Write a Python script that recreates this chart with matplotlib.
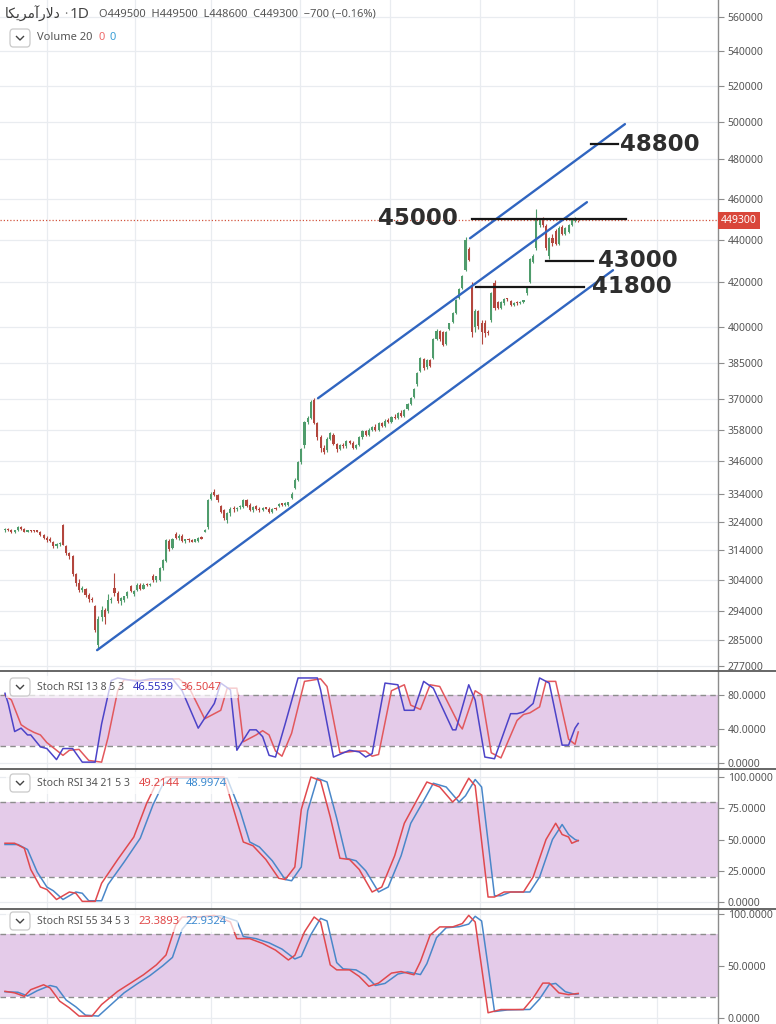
import numpy as np
import matplotlib
matplotlib.use('Agg')
import matplotlib.pyplot as plt
from matplotlib.ticker import NullLocator
from matplotlib.lines import Line2D
from matplotlib.patches import FancyBboxPatch
import matplotlib.transforms as mtransforms

plt.rcParams['font.family'] = ['Noto Sans', 'DejaVu Sans']

# ---------------- data (prices in thousand rials) ----------------
opens = [321.0, 321.4, 321.0, 320.4, 321.0, 322.2, 321.3, 320.5, 320.8, 320.7,
         320.6, 320.4, 319.3, 318.3, 318.0, 317.0, 315.5, 316.2, 322.7, 315.5,
         313.0, 312.0, 306.0, 303.0, 300.8, 301.0, 299.2, 298.0, 295.5, 283.5,
         292.0, 294.5, 294.0, 297.5, 301.5, 299.8, 297.3, 297.5, 298.8, 302.0,
         299.5, 300.8, 302.5, 301.2, 302.6, 302.3, 305.5, 304.0, 304.0, 308.0,
         310.5, 317.3, 314.8, 319.8, 318.3, 319.0, 317.3, 317.7, 317.5, 317.0,
         317.3, 318.3, 320.5, 322.0, 332.0, 334.5, 333.5, 329.5, 328.0, 324.5,
         327.0, 328.5, 328.3, 329.0, 329.0, 331.5, 330.0, 328.2, 329.5, 328.5,
         328.0, 328.8, 328.6, 327.4, 328.5, 329.5, 330.2, 330.0, 329.8, 332.5,
         336.0, 339.0, 345.5, 352.0, 361.0, 362.5, 369.5, 360.5, 355.0, 351.0,
         350.0, 354.5, 356.0, 352.5, 350.5, 352.0, 351.5, 353.5, 353.0, 351.0,
         352.0, 355.0, 357.5, 356.0, 358.0, 359.0, 358.0, 360.5, 359.5, 361.5,
         361.0, 363.0, 362.5, 364.5, 363.5, 366.0, 368.0, 371.0, 376.0, 381.5,
         386.5, 383.0, 386.0, 387.0, 395.0, 398.5, 398.0, 393.0, 399.3, 402.3,
         406.3, 413.0, 417.5, 425.6, 435.4, 419.0, 400.0, 407.0, 402.0, 402.0,
         398.0, 403.0, 419.5, 411.0, 408.5, 410.5, 412.5, 411.5, 410.0, 410.8,
         410.5, 411.2, 415.0, 420.0, 429.5, 436.0, 447.0, 450.0, 446.5, 432.0,
         440.5, 444.0, 438.0, 446.0, 442.5, 443.5, 447.0, 449.0, 449.5]
highs = [321.8, 321.9, 321.5, 321.2, 322.5, 322.6, 321.6, 321.0, 321.2, 321.0,
         320.9, 320.7, 319.6, 318.8, 318.5, 317.3, 316.5, 317.0, 323.2, 316.0,
         313.5, 312.5, 306.5, 304.5, 302.0, 301.5, 299.8, 298.5, 296.0, 292.5,
         295.5, 295.0, 299.5, 298.5, 306.5, 300.5, 298.5, 299.0, 300.5, 302.6,
         300.8, 303.2, 303.0, 303.0, 303.0, 303.0, 306.0, 305.5, 308.3, 311.0,
         318.0, 317.8, 318.2, 320.3, 319.5, 319.5, 318.0, 318.3, 318.0, 318.0,
         318.5, 318.8, 321.5, 332.2, 334.5, 335.5, 334.0, 330.0, 328.5, 327.5,
         329.0, 329.5, 329.0, 330.0, 332.0, 332.0, 330.5, 329.5, 330.0, 329.0,
         329.0, 329.2, 329.0, 328.8, 329.0, 330.5, 330.7, 330.8, 331.0, 334.5,
         339.5, 346.0, 351.0, 361.5, 363.5, 369.5, 370.6, 361.0, 356.0, 352.0,
         355.0, 357.0, 356.5, 353.0, 352.5, 353.0, 354.0, 354.0, 353.5, 352.5,
         355.5, 358.0, 358.0, 358.5, 359.5, 360.0, 361.0, 361.0, 362.0, 362.5,
         363.5, 364.0, 365.0, 365.5, 366.0, 368.5, 371.0, 374.5, 381.0, 387.5,
         387.0, 386.5, 386.5, 395.5, 399.5, 399.0, 398.5, 398.5, 402.0, 406.8,
         412.5, 417.5, 423.5, 441.0, 436.5, 420.0, 408.0, 407.5, 403.0, 403.0,
         399.0, 415.5, 421.0, 411.5, 411.5, 413.0, 413.0, 412.0, 411.2, 411.5,
         411.5, 412.0, 418.0, 431.5, 433.0, 455.0, 450.5, 451.0, 447.5, 441.0,
         442.5, 445.0, 446.5, 447.0, 446.0, 447.5, 450.0, 451.0, 449.5]
lows = [320.5, 320.8, 320.0, 320.0, 320.8, 321.0, 320.2, 320.3, 320.5, 320.4,
        320.2, 319.0, 318.0, 317.0, 317.0, 315.0, 314.8, 315.5, 315.8, 312.5,
        311.0, 305.5, 302.0, 300.0, 300.0, 298.5, 297.0, 297.0, 287.5, 282.3,
        291.0, 290.0, 293.5, 296.5, 299.0, 296.5, 296.0, 297.0, 298.3, 300.0,
        299.0, 300.5, 300.8, 301.0, 302.0, 302.0, 303.5, 303.5, 303.8, 307.5,
        310.0, 313.8, 314.5, 317.8, 317.5, 316.8, 316.5, 317.0, 316.8, 316.8,
        317.0, 317.8, 320.3, 321.5, 331.5, 333.0, 331.0, 327.0, 324.5, 323.5,
        326.0, 327.5, 327.8, 328.6, 328.8, 329.0, 327.8, 327.5, 328.0, 327.5,
        327.8, 328.3, 327.0, 327.2, 328.0, 329.0, 329.6, 329.5, 329.5, 332.0,
        335.5, 338.5, 345.0, 351.0, 360.0, 362.0, 360.0, 354.0, 349.5, 348.5,
        349.5, 354.0, 352.0, 349.5, 350.0, 351.0, 351.0, 352.5, 350.5, 350.5,
        351.5, 354.5, 355.5, 355.5, 357.5, 357.5, 357.5, 359.0, 359.0, 360.5,
        360.5, 362.0, 362.0, 363.0, 363.0, 365.5, 367.5, 370.5, 375.5, 381.0,
        382.0, 382.5, 383.0, 386.5, 394.5, 394.0, 392.0, 392.5, 399.0, 402.0,
        406.0, 412.5, 417.0, 425.0, 430.0, 396.0, 398.0, 399.5, 393.0, 396.0,
        396.5, 402.5, 407.5, 408.0, 408.0, 410.0, 411.8, 409.5, 409.5, 410.0,
        410.2, 410.8, 414.5, 419.5, 429.0, 435.0, 446.0, 446.0, 435.0, 431.0,
        437.0, 437.5, 437.5, 442.0, 442.0, 443.0, 446.5, 448.5, 448.6]
closes = [321.4, 321.0, 320.4, 321.0, 322.2, 321.3, 320.5, 320.8, 320.7, 320.6,
          320.4, 319.3, 318.3, 317.6, 317.3, 315.5, 316.2, 316.6, 316.0, 313.0,
          312.0, 306.0, 303.0, 300.8, 301.5, 299.2, 297.8, 297.5, 288.0, 291.5,
          294.5, 292.0, 297.5, 298.0, 299.8, 297.3, 298.2, 298.8, 300.3, 300.5,
          300.5, 302.6, 301.2, 302.6, 302.3, 302.8, 304.0, 305.3, 308.0, 310.7,
          317.5, 314.5, 317.8, 318.3, 319.0, 317.3, 317.7, 317.5, 317.0, 317.8,
          318.3, 318.0, 321.2, 331.8, 334.0, 333.5, 331.5, 327.5, 325.2, 327.2,
          328.5, 328.3, 328.7, 329.5, 331.5, 329.5, 328.2, 329.2, 328.5, 328.0,
          328.8, 328.6, 327.4, 328.5, 328.3, 330.2, 330.0, 330.5, 330.8, 334.0,
          339.0, 345.5, 350.5, 361.0, 362.5, 369.0, 360.5, 355.0, 351.0, 349.5,
          354.5, 356.5, 352.5, 350.5, 352.0, 351.5, 353.5, 353.0, 351.0, 352.0,
          355.0, 357.5, 356.0, 358.0, 359.0, 358.0, 360.5, 359.5, 361.5, 361.0,
          363.0, 362.5, 364.5, 363.5, 365.5, 368.0, 370.5, 374.0, 380.5, 387.0,
          382.8, 386.0, 383.5, 395.0, 398.5, 394.8, 392.5, 398.0, 401.8, 406.4,
          412.0, 417.0, 423.0, 440.0, 430.2, 398.0, 407.0, 400.5, 398.0, 397.5,
          397.5, 415.0, 408.5, 408.5, 411.0, 412.5, 412.3, 410.0, 410.8, 410.5,
          411.2, 411.5, 417.5, 431.0, 432.0, 450.0, 450.0, 447.0, 436.0, 440.5,
          438.5, 438.0, 445.5, 442.5, 445.5, 447.0, 449.5, 449.5, 449.3]

last_price = 449300
price_ticks = [560000, 540000, 520000, 500000, 480000, 460000, 440000, 420000,
               400000, 385000, 370000, 358000, 346000, 334000, 324000, 314000,
               304000, 294000, 285000, 277000]
month_starts = [13.0, 40.4, 63.9, 91.6, 119.6, 147.5, 176.7, 202.5]

# channel lines: (bar index pair, price pair)
chan_lower = ([28.6, 188.8], [281800, 425600])
chan_mid = ([97.2, 180.7], [370400, 458200])
chan_upper = ([144.4, 192.5], [440600, 498700])

# horizontal levels (labels in toman, price in rial = label*10)
levels = [48800, 45000, 43000, 41800]
level_spans = [(182.0, 190.4), (145.0, 192.9), (168.0, 182.6), (146.3, 179.8)]
level_label_x = [191.0, 140.7, 184.2, 182.3]
level_label_ha = ['left', 'right', 'left', 'left']

# Stoch RSI 13 8 5 3
s1_k_idx = [0, 1, 3, 5, 7, 8, 11, 13, 16, 18, 21, 24, 28, 30, 33, 35, 41, 45, 52, 55,
            60, 65, 67, 70, 72, 76, 78, 80, 82, 84, 87, 91, 97, 98, 102, 107, 110, 112, 114, 118,
            122, 124, 127, 130, 133, 139, 140, 144, 146, 149, 152, 157, 159, 161, 164, 166, 169, 173, 175, 177,
            178]
s1_k = [82, 70, 37, 41, 33, 33, 19, 17, 4, 17, 17, 1, 1, 46, 97, 100, 96, 99, 99, 85,
        41, 70, 94, 86, 15, 39, 39, 31, 9, 7, 46, 100, 100, 86, 7, 15, 13, 7, 11, 94,
        92, 62, 62, 96, 88, 39, 39, 92, 74, 7, 5, 58, 58, 60, 70, 100, 94, 21, 21, 41,
        46.5539]
s1_d_idx = [0, 2, 5, 7, 9, 11, 13, 15, 18, 20, 23, 26, 30, 32, 35, 37, 43, 47, 54, 57,
            62, 67, 69, 72, 74, 78, 80, 82, 84, 86, 89, 93, 98, 100, 104, 109, 112, 114, 116, 120,
            124, 126, 129, 132, 135, 141, 142, 146, 148, 151, 154, 159, 161, 163, 166, 168, 171, 175, 177, 178]
s1_d = [80, 74, 45, 40, 36, 33, 24, 18, 9, 15, 16, 3, 1, 30, 85, 98, 97, 98, 99, 90,
        52, 62, 88, 88, 25, 33, 38, 33, 14, 8, 35, 96, 99, 90, 12, 14, 14, 8, 10, 85,
        92, 68, 63, 92, 90, 45, 40, 85, 80, 12, 6, 50, 57, 59, 66, 96, 96, 28, 22, 36.5047]

# Stoch RSI 34 21 5 3
s2_k_idx = [0, 3, 6, 8, 11, 13, 16, 20, 22, 24, 28, 30, 35, 40, 44, 47, 50, 68, 71, 74,
            77, 81, 85, 87, 90, 92, 95, 98, 101, 104, 107, 110, 114, 117, 121, 124, 128, 131, 135, 139,
            141, 144, 146, 150, 152, 155, 161, 164, 168, 171, 173, 175, 176, 178]
s2_k = [47, 47, 43, 26, 12, 10, 2, 8, 7, 0.5, 0.5, 15, 34, 52, 79, 95, 100, 100, 74, 48,
        45, 34, 19, 18, 28, 74, 100, 97, 68, 35, 34, 26, 8, 12, 37, 63, 82, 96, 92, 80,
        85, 99, 93, 4, 4, 8, 8, 20, 50, 63, 54, 52, 47, 49.2144]
s2_d_idx = [0, 4, 7, 10, 13, 15, 18, 22, 24, 26, 30, 32, 37, 42, 46, 49, 52, 69, 73, 76,
            79, 83, 87, 89, 92, 94, 97, 100, 103, 106, 109, 112, 116, 119, 123, 126, 130, 133, 137, 141,
            143, 146, 148, 152, 154, 157, 163, 166, 170, 173, 175, 177, 178]
s2_d = [46, 46, 42, 24, 12, 9, 2, 8, 7, 1, 1, 14, 32, 51, 78, 94, 99, 99, 73, 48,
        44, 33, 18, 17, 28, 73, 99, 96, 67, 35, 33, 25, 8, 12, 37, 63, 81, 95, 92, 80,
        85, 98, 92, 5, 5, 8, 8, 20, 50, 62, 54, 50, 48.9974]

# Stoch RSI 55 34 5 3
s3_k_idx = [0, 3, 6, 8, 12, 14, 17, 20, 23, 27, 30, 35, 39, 43, 47, 50, 53, 55, 60, 65,
            70, 72, 76, 80, 84, 88, 90, 93, 96, 98, 101, 103, 107, 110, 113, 116, 120, 123, 127, 129,
            132, 135, 139, 142, 144, 146, 150, 154, 161, 164, 167, 169, 172, 175, 178]
s3_k = [25.4, 23.9, 20.6, 27, 31.7, 28.6, 15.9, 9.5, 1.6, 1.6, 12.7, 25.4, 33.3, 41.3, 50.8, 60.3, 88.9, 96.8, 96.8, 98.4,
        92, 76, 76, 71.4, 65, 55.5, 60, 82.5, 96.8, 92, 50.8, 46, 46, 39.7, 30.2, 33.3, 42.9, 44.4, 41.3, 54,
        79.4, 87.3, 87.3, 90.5, 98.4, 92, 4.8, 7.9, 7.9, 19, 33.3, 33.3, 23.9, 22.2, 23.3893]
s3_d_idx = [0, 4, 7, 10, 14, 16, 19, 22, 25, 29, 32, 37, 41, 45, 49, 52, 55, 58, 62, 67,
            72, 74, 78, 82, 86, 90, 92, 95, 98, 100, 103, 105, 109, 112, 115, 118, 122, 125, 129, 131,
            134, 137, 141, 144, 146, 148, 152, 156, 163, 166, 169, 171, 174, 177, 178]
s3_d = [25, 24.5, 21, 26, 31, 29.5, 17, 10.5, 2.5, 1.6, 10, 24, 32.5, 40.5, 50, 58, 85, 96, 97, 98,
        93, 78, 76, 72, 66, 56.5, 59, 80, 95.5, 93, 53, 47, 46, 40.5, 31, 33, 42, 44, 41.5, 52,
        77, 86.5, 87.5, 90, 97.5, 93, 6, 7.5, 8, 18, 32, 33, 25, 22.5, 22.9324]

# ---------------- styling ----------------
W, H = 776, 1024
UP, DOWN = '#4f9c6c', '#b3463d'
GRID = '#e9ecf0'
BAND = '#e4cbe9'
AXIS_TXT = '#555555'
CHAN = '#3065c0'
XMIN, XMAX = -1.55, 221.4
AX_RIGHT = 718

fig = plt.figure(figsize=(W / 100, H / 100), dpi=100)
fig.patch.set_facecolor('white')


def fx(px):
    return px / W


def fy(py):
    return 1 - py / H


def add_panel(top, bottom):
    a = fig.add_axes([0, fy(bottom), fx(AX_RIGHT), (bottom - top) / H])
    a.set_xlim(XMIN, XMAX)
    for s in ['top', 'left', 'bottom']:
        a.spines[s].set_visible(False)
    a.spines['right'].set_color('#8c8c8c')
    a.spines['right'].set_linewidth(1.0)
    a.yaxis.tick_right()
    a.set_xticks([])
    a.tick_params(axis='y', which='both', right=True, left=False, labelright=True,
                  labelleft=False, length=4, width=0.8, color='#8c8c8c',
                  labelcolor=AXIS_TXT, labelsize=7.5, pad=3)
    for m in month_starts:
        a.axvline(m, color=GRID, lw=0.9, zorder=0)
    return a


ax = add_panel(0, 671)
p1 = add_panel(671, 769)
p2 = add_panel(769, 909)
p3 = add_panel(909, 1024)

# ---------------- main price panel ----------------
o = np.array(opens) * 1000
h = np.array(highs) * 1000
l = np.array(lows) * 1000
c = np.array(closes) * 1000
idx = np.arange(len(o))
ax.set_yscale('log')
ax.set_ylim(275500, 570600)
ax.set_yticks(price_ticks)
ax.set_yticklabels([str(v) for v in price_ticks])
ax.yaxis.set_minor_locator(NullLocator())
for v in price_ticks:
    ax.axhline(v, color=GRID, lw=0.9, zorder=0)

cols = np.where(c >= o, UP, DOWN)
ax.vlines(idx, l, h, colors=cols, lw=0.8, zorder=3)
body = np.maximum(np.abs(c - o), c * 0.0016)
ax.bar(idx, body, bottom=np.minimum(o, c), width=0.66, color=cols, linewidth=0, zorder=4)

# last price line + badge
ax.axhline(last_price, color='#d2553f', lw=0.9, ls=(0, (1, 1.6)), zorder=2)
trans = mtransforms.blended_transform_factory(ax.transAxes, ax.transData)
ax.text(1.004, last_price, str(last_price), transform=trans, ha='left', va='center',
        color='white', fontsize=7.5, clip_on=False, zorder=10,
        bbox=dict(boxstyle='square,pad=0.28', fc='#d9463a', ec='none'))

# channel lines
for xs, ys in (chan_lower, chan_mid, chan_upper):
    ax.plot(xs, ys, color=CHAN, lw=1.7, zorder=5, solid_capstyle='round')

# levels
for lv, (x0, x1), lx, ha in zip(levels, level_spans, level_label_x, level_label_ha):
    ax.plot([x0, x1], [lv * 10, lv * 10], color='#161616', lw=1.6, zorder=6)
    ax.text(lx, lv * 10, str(lv), ha=ha, va='center', fontsize=16.5, fontweight='bold',
            color='#2e2e2e', family='DejaVu Sans', zorder=7)

# ---------------- stoch panels ----------------


def stoch(a, ylim, ticks, k_idx, k, d_idx, d, k_col, d_col, k_on_top=True):
    a.set_ylim(*ylim)
    a.axhspan(20, 80, color=BAND, lw=0, zorder=0.5)
    for t in ticks:
        a.axhline(t, color=GRID, lw=0.9, zorder=0)
    for t in (20, 80):
        a.axhline(t, color='#8d8d8d', lw=1.0, ls=(0, (4, 3)), zorder=1)
    a.set_yticks(ticks)
    a.set_yticklabels(['%.4f' % t for t in ticks])
    zk, zd = (4, 3) if k_on_top else (3, 4)
    a.plot(d_idx, d, color=d_col, lw=1.1, zorder=zd)
    a.plot(k_idx, k, color=k_col, lw=1.1, zorder=zk)


stoch(p1, (-7.06, 108.2), [0, 40, 80], s1_k_idx, s1_k, s1_d_idx, s1_d, '#4c43c8', '#e2585d')
stoch(p2, (-5.6, 106.4), [0, 25, 50, 75, 100], s2_k_idx, s2_k, s2_d_idx, s2_d, '#e0494e', '#4a87c9')
stoch(p3, (-6.0, 104.5), [0, 50, 100], s3_k_idx, s3_k, s3_d_idx, s3_d, '#e0494e', '#4a87c9')

# panel separators
for yy in (671, 769, 909):
    fig.add_artist(Line2D([0, 1], [fy(yy), fy(yy)], color='#5a5a5a', lw=1.3,
                          transform=fig.transFigure))

# ---------------- header / legends ----------------
renderer = fig.canvas.get_renderer()


def chain(x, y, pieces, bg=None):
    """pieces: list of (text, color, size, gap_before_px, kwargs)."""
    cur = x
    for txt, col, size, gap, kw in pieces:
        cur += gap
        t = fig.text(fx(cur), fy(y), txt, color=col, fontsize=size, ha='left',
                     va='center', **kw)
        bb = t.get_window_extent(renderer=renderer)
        cur += bb.width
    return cur


def chevron_box(cy):
    fig.patches.append(FancyBboxPatch((fx(10), fy(cy + 9)), fx(20), 18 / H,
                                      boxstyle='round,pad=0,rounding_size=0.004',
                                      transform=fig.transFigure, fc='white',
                                      ec='#c9c9c9', lw=0.9, zorder=20))
    fig.add_artist(Line2D([fx(16.5), fx(20), fx(23.5)],
                          [fy(cy - 1.5), fy(cy + 2), fy(cy - 1.5)],
                          color='#444444', lw=1.0, transform=fig.transFigure, zorder=21))


# symbol name (Persian, presentation forms in visual order): دلارآمریکا
name = '\uFE8E\uFB91\uFEF3\uFEAE\uFEE3\uFE81\uFEAD\uFEFB\uFEA9'
chain(5, 14, [
    (name, '#3c3c3c', 10, 0, dict(family=['DejaVu Sans'])),
    ('\u00b7', '#777777', 9, 3, {}),
    ('1D', '#444444', 11, 3, {}),
    ('O449500  H449500  L448600  C449300  \u2212700 (\u22120.16%)', '#555555', 8, 9, {}),
])

chevron_box(38)
chain(37, 38, [
    ('Volume 20', '#555555', 8, 0, {}),
    ('0', '#ef6a6a', 8, 6, {}),
    ('0', '#3a9fd6', 8, 5, {}),
])

for cy, name_s, v1, c1, v2, c2 in [
        (687, 'Stoch RSI 13 8 5 3', '46.5539', '#2f2fbf', '36.5047', '#e04848'),
        (783, 'Stoch RSI 34 21 5 3', '49.2144', '#e04848', '48.9974', '#3d8ad0'),
        (921, 'Stoch RSI 55 34 5 3', '23.3893', '#e04848', '22.9324', '#3d8ad0')]:
    fig.patches.append(FancyBboxPatch((fx(6), fy(cy + 11)), fx(232), 22 / H,
                                      boxstyle='square,pad=0', transform=fig.transFigure,
                                      fc='white', ec='none', alpha=0.7, zorder=15))
    chevron_box(cy)
    chain(37, cy, [
        (name_s, '#555555', 7.5, 0, dict(zorder=22)),
        (v1, c1, 8, 9, dict(zorder=22)),
        (v2, c2, 8, 6, dict(zorder=22)),
    ])

fig.savefig('out.png', dpi=100, facecolor='white')
